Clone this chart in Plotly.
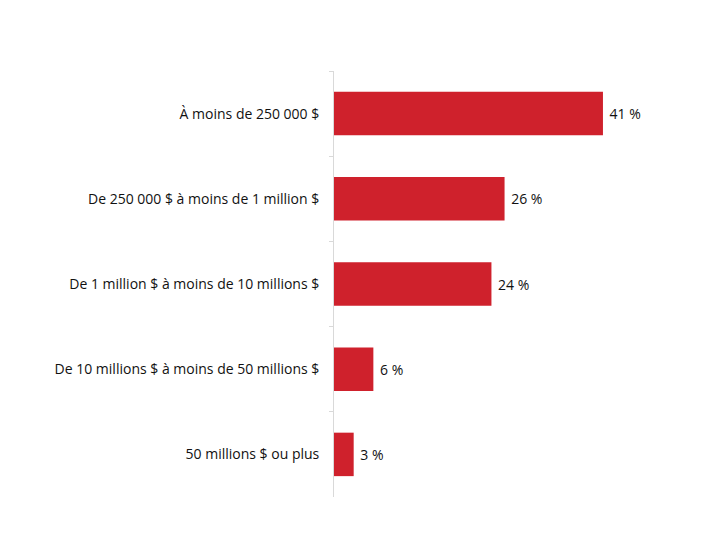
import plotly.graph_objects as go

categories = [
    "À moins de 250 000 $",
    "De 250 000 $ à moins de 1 million $",
    "De 1 million $ à moins de 10 millions $",
    "De 10 millions $ à moins de 50 millions $",
    "50 millions $ ou plus",
]
values = [41, 26, 24, 6, 3]
labels = [f" {v} %" for v in values]

fig = go.Figure(go.Bar(
    y=categories,
    x=values,
    orientation="h",
    marker=dict(color="#CF212C", line=dict(width=0)),
    text=labels,
    textposition="outside",
    textfont=dict(family="Open Sans, Liberation Sans, sans-serif", size=14, color="#111111"),
    cliponaxis=False,
))

fig.update_layout(
    width=720, height=540,
    margin=dict(l=326, r=66, t=63, b=51),
    paper_bgcolor="white", plot_bgcolor="white",
    bargap=0.49,
    showlegend=False,
    font=dict(family="Open Sans, Liberation Sans, sans-serif", size=14, color="#111111"),
)
fig.update_xaxes(range=[0, 50], visible=False)
fig.update_yaxes(
    autorange="reversed",
    showline=True, linecolor="#D9D9D9", linewidth=1,
    ticks="outside", tickson="boundaries", ticklen=4, tickcolor="#D9D9D9",
    showgrid=False, zeroline=False,
    ticksuffix="   ",
    tickfont=dict(size=14, color="#111111"),
)

fig.write_html("out.html")
